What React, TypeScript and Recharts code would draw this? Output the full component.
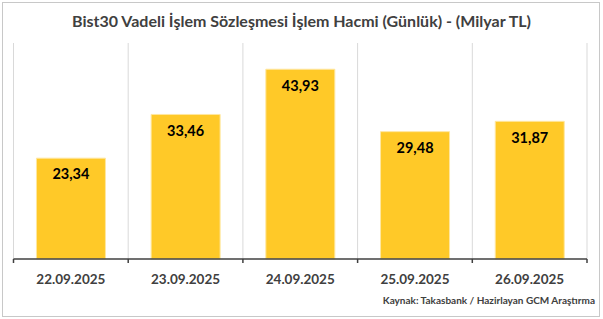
import React from 'react';
import { BarChart, Bar, XAxis, YAxis, CartesianGrid, LabelList } from 'recharts';

const categories = ['22.09.2025', '23.09.2025', '24.09.2025', '25.09.2025', '26.09.2025'];
const volumes = [23.34, 33.46, 43.93, 29.48, 31.87];
const boundaryTicks = [0, 1, 2, 3, 4, 5];
const yDomain = [0, 50];

const titleText = 'Bist30 Vadeli İşlem Sözleşmesi İşlem Hacmi (Günlük) - (Milyar TL)';
const sourceText = 'Kaynak: Takasbank / Hazirlayan GCM Araştırma';

const data = categories.map((date, i) => ({ date, value: volumes[i] }));

const FONT = 'Lato, "Noto Sans", sans-serif';
const TEXT_COLOR = '#404040';
const AXIS_COLOR = '#404040';
const TICK_MARGIN = 15;

const DateTick = (props: any) => {
  const { x, y, payload, index, width, visibleTicksCount } = props;
  const half =
    payload && typeof payload.offset === 'number' && payload.offset > 0
      ? payload.offset
      : width / (visibleTicksCount || categories.length) / 2;
  const axisY = y - TICK_MARGIN;
  const idx = typeof index === 'number' ? index : payload.index;
  return (
    <g>
      <line x1={x - half} x2={x - half} y1={axisY} y2={axisY + 4} stroke={AXIS_COLOR} strokeWidth={1.5} />
      {idx === categories.length - 1 && (
        <line x1={x + half} x2={x + half} y1={axisY} y2={axisY + 4} stroke={AXIS_COLOR} strokeWidth={1.5} />
      )}
      <text
        x={x}
        y={y}
        dy="0.71em"
        textAnchor="middle"
        fill={TEXT_COLOR}
        fontSize={13.5}
        fontWeight={700}
        fontFamily={FONT}
      >
        {payload.value}
      </text>
    </g>
  );
};

export default function App() {
  return (
    <div style={{ position: 'absolute', left: 0, top: 0, width: 603, height: 319, background: '#fff', fontFamily: FONT }}>
      <div
        style={{
          position: 'absolute', left: 2, top: 2, width: 598, height: 315,
          border: '1px solid #c8c8c8', boxSizing: 'border-box',
        }}
      />
      <div
        style={{
          position: 'absolute', left: 0, top: 11, width: 603, height: 20, lineHeight: '20px',
          textAlign: 'center', fontWeight: 700, fontSize: 16, color: TEXT_COLOR, whiteSpace: 'nowrap',
        }}
      >
        {titleText}
      </div>
      <div style={{ position: 'absolute', left: 0, top: 0 }}>
        <BarChart
          width={603}
          height={319}
          data={data}
          margin={{ top: 43, right: 16, left: 13.5, bottom: 30 }}
          barCategoryGap="20%"
        >
          <CartesianGrid
            horizontal={false}
            stroke="#d9d9d9"
            verticalCoordinatesGenerator={({ offset }: any) =>
              boundaryTicks.map((t) => offset.left + (t * offset.width) / categories.length)
            }
          />
          <XAxis
            dataKey="date"
            axisLine={{ stroke: AXIS_COLOR, strokeWidth: 1.5 }}
            tickLine={false}
            tickSize={0}
            tickMargin={TICK_MARGIN}
            height={30}
            interval={0}
            tick={<DateTick />}
          />
          <YAxis hide domain={yDomain} />
          <Bar dataKey="value" fill="#FFC928" stroke="#FFE7A0" strokeWidth={1} isAnimationActive={false}>
            <LabelList
              dataKey="value"
              position="insideTop"
              offset={11}
              formatter={(v: any) => Number(v).toFixed(2).replace('.', ',')}
              style={{ fill: '#000', fontSize: 14.5, fontWeight: 700, fontFamily: FONT }}
            />
          </Bar>
        </BarChart>
      </div>
      <div
        style={{
          position: 'absolute', right: 8, top: 293.5, lineHeight: '12px', fontSize: 10,
          fontWeight: 700, color: TEXT_COLOR, whiteSpace: 'nowrap',
        }}
      >
        {sourceText}
      </div>
    </div>
  );
}
